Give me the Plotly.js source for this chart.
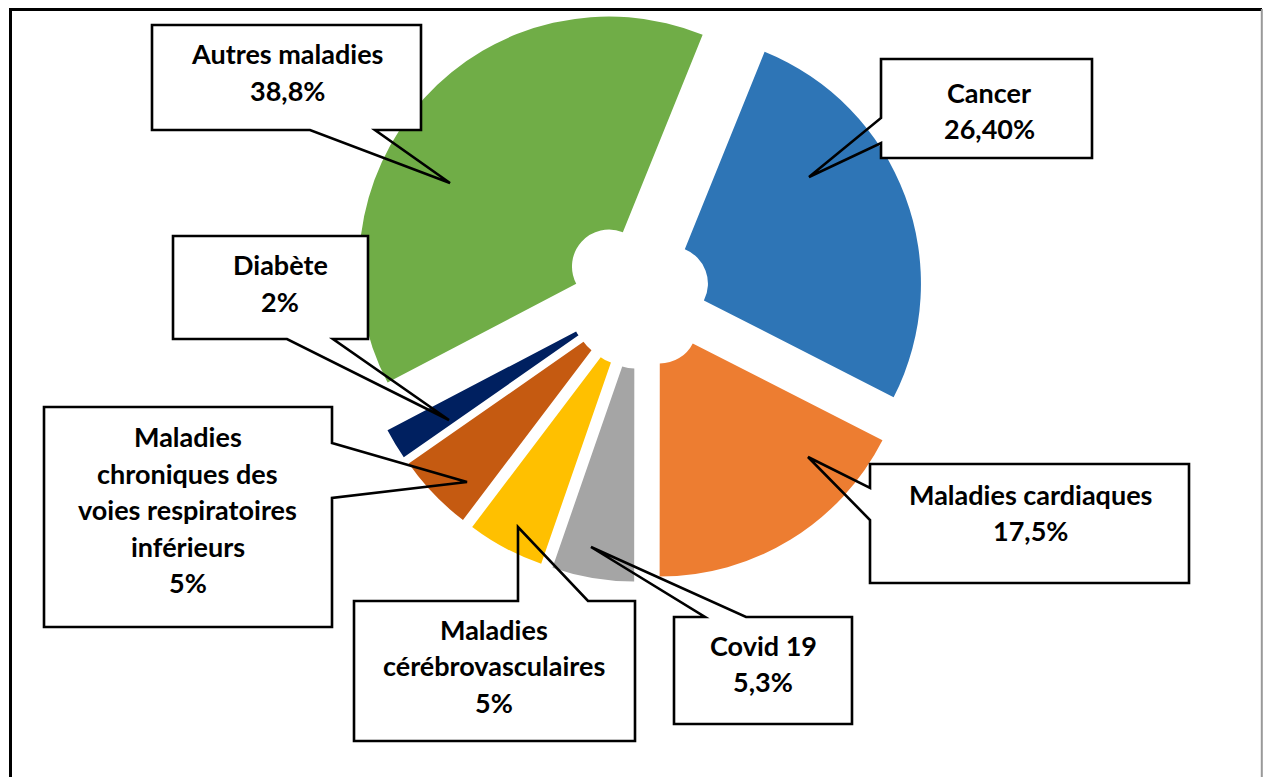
<!DOCTYPE html>
<html>
<head>
<meta charset="utf-8">
<script src="https://cdn.plot.ly/plotly-3.0.1.min.js"></script>
<style>
  html, body { margin: 0; padding: 0; background: #ffffff; }
  #chart { width: 1263px; height: 777px; }
</style>
</head>
<body>
<div id="chart"></div>
<script>
// ---------------- DATA ----------------
const labelLines = [
  ["Cancer"],
  ["Maladies cardiaques"],
  ["Covid 19"],
  ["Maladies", "cérébrovasculaires"],
  ["Maladies", "chroniques des", "voies respiratoires", "inférieurs"],
  ["Diabète"],
  ["Autres maladies"]
];
const categories = labelLines.map(l => l.join(" "));
const values = [26.4, 17.5, 5.3, 5, 5, 2, 38.8];
const pctLabels = ["26,40%", "17,5%", "5,3%", "5%", "5%", "2%", "38,8%"];

// ---------------- STYLE / LAYOUT ----------------
const W = 1263, H = 777;
const colors = ["#2E75B6", "#ED7D31", "#A5A5A5", "#FFC000", "#C55A11", "#002060", "#70AD47"];

// pie placement (pixels)
const pulls = [0.13, 0.148, 0.148, 0.148, 0.148, 0.148, 0.17];
const maxPull = Math.max(...pulls);
const pieCx = 640.5, pieCy = 295, pieR = 250;
const pieHalf = pieR * (1 + maxPull);

// callout geometry in pixels: box [x0,y0,x1,y1], side of pointer, base span, tip, text center x, first line center y
const callouts = [
  {box: [881, 59, 1092, 158], side: "left",   base: [118, 143], tip: [809, 177], tx: 989,  ty: 92},
  {box: [870, 464, 1189, 583], side: "left",  base: [488, 520], tip: [808, 457], tx: 1030, ty: 494},
  {box: [674, 617, 852, 724], side: "top",    base: [705, 746], tip: [591, 547], tx: 763,  ty: 645},
  {box: [354, 601, 635, 741], side: "top",    base: [518, 588], tip: [518, 527], tx: 494,  ty: 629},
  {box: [44, 407, 332, 627], side: "right",   base: [443, 498], tip: [467, 482], tx: 188,  ty: 436.5},
  {box: [173, 236, 368, 339], side: "bottom", base: [287, 333], tip: [449, 420], tx: 280,  ty: 264.5},
  {box: [152, 25, 421, 130], side: "bottom",  base: [310, 375], tip: [450, 183], tx: 287,  ty: 54}
];
const lineGap = 36.5;

const px = x => x / W;
const py = y => 1 - y / H;
const pt = (p) => px(p[0]).toFixed(5) + "," + py(p[1]).toFixed(5);

function calloutPath(c) {
  const [x0, y0, x1, y1] = c.box;
  const [a, b] = c.base;
  let pts;
  if (c.side === "top") {
    pts = [[x0, y0], [a, y0], c.tip, [b, y0], [x1, y0], [x1, y1], [x0, y1]];
  } else if (c.side === "right") {
    pts = [[x0, y0], [x1, y0], [x1, a], c.tip, [x1, b], [x1, y1], [x0, y1]];
  } else if (c.side === "bottom") {
    pts = [[x0, y0], [x1, y0], [x1, y1], [b, y1], c.tip, [a, y1], [x0, y1]];
  } else {
    pts = [[x0, y0], [x1, y0], [x1, y1], [x0, y1], [x0, b], c.tip, [x0, a]];
  }
  return "M" + pts.map(pt).join(" L") + " Z";
}

const shapes = [];
const annotations = [];
const textFont = {family: "Lato, 'Open Sans', sans-serif", size: 27, color: "#000000", weight: 700};

callouts.forEach((c, i) => {
  const [x0, y0, x1, y1] = c.box;
  shapes.push({type: "rect", xref: "paper", yref: "paper", layer: "above",
    x0: px(x0), x1: px(x1), y0: py(y1), y1: py(y0),
    fillcolor: "#ffffff", line: {width: 0}});
  shapes.push({type: "path", xref: "paper", yref: "paper", layer: "above",
    path: calloutPath(c), fillcolor: "rgba(0,0,0,0)", line: {color: "#000000", width: 2.6}});
  const lines = labelLines[i].concat([pctLabels[i]]);
  lines.forEach((t, k) => {
    annotations.push({xref: "paper", yref: "paper", x: px(c.tx), y: py(c.ty + k * lineGap),
      xanchor: "center", yanchor: "middle", showarrow: false, text: t, font: textFont});
  });
});

// outer frame
shapes.push({type: "line", xref: "paper", yref: "paper", layer: "above",
  x0: px(10.5), x1: px(10.5), y0: py(8.5), y1: py(777), line: {color: "#000000", width: 3}});
shapes.push({type: "line", xref: "paper", yref: "paper", layer: "above",
  x0: px(9), x1: px(1262), y0: py(9.5), y1: py(9.5), line: {color: "#000000", width: 3}});
shapes.push({type: "line", xref: "paper", yref: "paper", layer: "above",
  x0: px(1261.8), x1: px(1261.8), y0: py(9), y1: py(777), line: {color: "#999999", width: 2}});

const trace = {
  type: "pie",
  labels: categories,
  values: values,
  sort: false,
  direction: "clockwise",
  rotation: 22,
  hole: 0.148,
  pull: pulls,
  textinfo: "none",
  hoverinfo: "label+percent",
  marker: {colors: colors, line: {width: 0}},
  domain: {
    x: [px(pieCx - pieHalf), px(pieCx + pieHalf)],
    y: [py(pieCy + pieHalf), py(pieCy - pieHalf)]
  },
  showlegend: false
};

const layout = {
  width: W, height: H,
  margin: {l: 0, r: 0, t: 0, b: 0, pad: 0},
  paper_bgcolor: "#ffffff",
  plot_bgcolor: "#ffffff",
  showlegend: false,
  shapes: shapes,
  annotations: annotations
};

Plotly.newPlot("chart", [trace], layout, {displayModeBar: false, staticPlot: true});
</script>
</body>
</html>
